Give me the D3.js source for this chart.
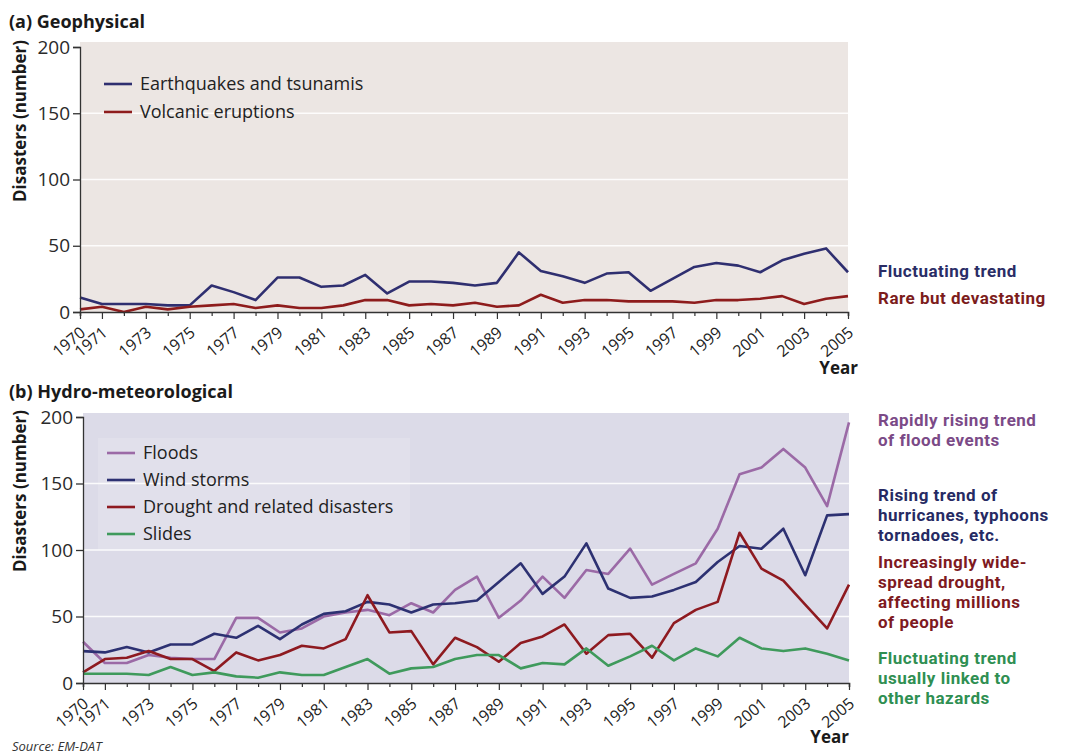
<!DOCTYPE html>
<html>
<head>
<meta charset="utf-8">
<script src="https://cdn.jsdelivr.net/npm/d3@7"></script>
<style>
  html, body { margin: 0; padding: 0; background: #ffffff; }
  svg { display: block; font-family: "Open Sans", "Noto Sans", sans-serif; }
</style>
</head>
<body>
<svg id="chart" width="1068" height="756"></svg>
<script>
// Years 1970–2005
const years = d3.range(1970, 2006);
const yearTickLabels = [1970, 1971, 1973, 1975, 1977, 1979, 1981, 1983, 1985, 1987, 1989,
  1991, 1993, 1995, 1997, 1999, 2001, 2003, 2005];
const valueTicks = [0, 50, 100, 150, 200];

// (a) Geophysical disasters per year
const earthquakes = [11, 6, 6, 6, 5, 5, 20, 15, 9, 26, 26, 19, 20, 28, 14, 23, 23, 22,
  20, 22, 45, 31, 27, 22, 29, 30, 16, 25, 34, 37, 35, 30, 39, 44, 48, 30];
const volcanic = [2, 4, 0, 4, 2, 4, 5, 6, 3, 5, 3, 3, 5, 9, 9, 5, 6, 5,
  7, 4, 5, 13, 7, 9, 9, 8, 8, 8, 7, 9, 9, 10, 12, 6, 10, 12];

// (b) Hydro-meteorological disasters per year
const floods = [31, 15, 15, 21, 19, 18, 18, 49, 49, 38, 41, 50, 53, 55, 51, 60, 53, 70,
  80, 49, 62, 80, 64, 85, 82, 101, 74, 82, 90, 116, 157, 162, 176, 162, 133, 196];
const windStorms = [24, 23, 27, 23, 29, 29, 37, 34, 43, 33, 44, 52, 54, 61, 59, 53, 59, 60,
  62, 76, 90, 67, 80, 105, 71, 64, 65, 70, 76, 91, 103, 101, 116, 81, 126, 127];
const drought = [8, 18, 19, 24, 18, 18, 9, 23, 17, 21, 28, 26, 33, 66, 38, 39, 14, 34,
  27, 16, 30, 35, 44, 22, 36, 37, 19, 45, 55, 61, 113, 86, 77, 59, 41, 74];
const slides = [7, 7, 7, 6, 12, 6, 8, 5, 4, 8, 6, 6, 12, 18, 7, 11, 12, 18,
  21, 21, 11, 15, 14, 26, 13, 20, 28, 17, 26, 20, 34, 26, 24, 26, 22, 17];

const svg = d3.select("#chart");

const panels = [
  {
    title: "(a) Geophysical", titleY: 28,
    x0: 80, x1: 848, yTop: 47, yBottom: 312, bgTop: 42,
    bg: "#ece6e3", axisTitleTop: 40, yearX: 858, yearY: 374,
    legendX: 104, legendY: 84, legendGap: 28, legendBox: null,
    series: [
      { name: "Earthquakes and tsunamis", values: earthquakes, color: "#2f2f70" },
      { name: "Volcanic eruptions", values: volcanic, color: "#8e1c1c" }
    ],
    notes: [
      { lines: ["Fluctuating trend"], color: "#2a2d66", y: 277 },
      { lines: ["Rare but devastating"], color: "#7c1c1c", y: 304 }
    ]
  },
  {
    title: "(b) Hydro-meteorological", titleY: 398,
    x0: 83, x1: 849, yTop: 417, yBottom: 683, bgTop: 413,
    bg: "#dcdbe8", axisTitleTop: 410, yearX: 849, yearY: 743,
    legendX: 107, legendY: 453, legendGap: 27, legendBox: [98, 438, 312, 112],
    series: [
      { name: "Floods", values: floods, color: "#9b6aa6" },
      { name: "Wind storms", values: windStorms, color: "#2d3172" },
      { name: "Drought and related disasters", values: drought, color: "#8e1a20" },
      { name: "Slides", values: slides, color: "#3f9a5c" }
    ],
    notes: [
      { lines: ["Rapidly rising trend", "of flood events"], color: "#7b4a87", y: 426 },
      { lines: ["Rising trend of", "hurricanes, typhoons", "tornadoes, etc."], color: "#262a63", y: 501 },
      { lines: ["Increasingly wide-", "spread drought,", "affecting millions", "of people"], color: "#7e1a1f", y: 568 },
      { lines: ["Fluctuating trend", "usually linked to", "other hazards"], color: "#2f8f52", y: 664 }
    ]
  }
];

panels.forEach(p => {
  const g = svg.append("g");
  const x = d3.scaleLinear().domain([1970, 2005]).range([p.x0, p.x1]);
  const y = d3.scaleLinear().domain([0, 200]).range([p.yBottom, p.yTop]);

  // panel title
  g.append("text").attr("x", 9).attr("y", p.titleY)
    .attr("font-size", 18).attr("font-weight", 700).attr("fill", "#1a1a1a")
    .text(p.title);

  // plot background
  g.append("rect").attr("x", p.x0).attr("y", p.bgTop)
    .attr("width", p.x1 - p.x0).attr("height", p.yBottom - p.bgTop)
    .attr("fill", p.bg);

  // white horizontal gridlines
  g.selectAll("line.grid").data([50, 100, 150]).join("line")
    .attr("x1", p.x0).attr("x2", p.x1)
    .attr("y1", d => y(d)).attr("y2", d => y(d))
    .attr("stroke", "#ffffff").attr("stroke-width", 1.3).attr("opacity", 0.9);

  // legend backdrop
  if (p.legendBox) {
    g.append("rect").attr("x", p.legendBox[0]).attr("y", p.legendBox[1])
      .attr("width", p.legendBox[2]).attr("height", p.legendBox[3])
      .attr("fill", "#ffffff").attr("opacity", 0.15);
  }

  // series lines
  const line = d3.line().x((d, i) => x(years[i])).y(d => y(d));
  p.series.forEach(s => {
    g.append("path").datum(s.values)
      .attr("d", line).attr("fill", "none")
      .attr("stroke", s.color).attr("stroke-width", 2.6)
      .attr("stroke-linejoin", "round");
  });

  // y axis
  const yAxis = d3.axisLeft(y).tickValues(valueTicks).tickSize(7).tickPadding(3);
  const ya = g.append("g").attr("transform", `translate(${p.x0},0)`).call(yAxis);
  ya.select(".domain").attr("stroke", "#333").attr("stroke-width", 1.3);
  ya.selectAll(".tick line").attr("stroke", "#333").attr("stroke-width", 1.3);
  ya.selectAll(".tick text").attr("font-size", 19).attr("fill", "#2a2a2a")
    .attr("font-family", "'Open Sans', sans-serif");

  // x axis: minor ticks every year, longer ticks on labelled years
  const xAxis = d3.axisBottom(x).tickValues(years).tickSize(4).tickFormat("");
  const xa = g.append("g").attr("transform", `translate(0,${p.yBottom})`).call(xAxis);
  xa.select(".domain").attr("stroke", "#333").attr("stroke-width", 1.6);
  xa.selectAll(".tick line").attr("stroke", "#333").attr("stroke-width", 1.2)
    .attr("y2", d => yearTickLabels.includes(d) ? 7 : 4);

  g.selectAll("text.year").data(yearTickLabels).join("text")
    .attr("class", "year")
    .attr("transform", d => `translate(${x(d) + 3},${p.yBottom + 18}) rotate(-40)`)
    .attr("text-anchor", "end")
    .attr("dy", "0.35em")
    .attr("font-size", 16).attr("fill", "#222")
    .text(d => d);

  // y axis title
  g.append("text")
    .attr("transform", `translate(26,${p.axisTitleTop}) rotate(-90)`)
    .attr("text-anchor", "end")
    .attr("font-size", 17).attr("font-weight", 700).attr("fill", "#1a1a1a")
    .text("Disasters (number)");

  // x axis title
  g.append("text").attr("x", p.yearX).attr("y", p.yearY)
    .attr("text-anchor", "end")
    .attr("font-size", 17).attr("font-weight", 700).attr("fill", "#1a1a1a")
    .text("Year");

  // legend
  p.series.forEach((s, i) => {
    const ly = p.legendY + i * p.legendGap;
    g.append("line").attr("x1", p.legendX).attr("x2", p.legendX + 28)
      .attr("y1", ly).attr("y2", ly)
      .attr("stroke", s.color).attr("stroke-width", 2.6);
    g.append("text").attr("x", p.legendX + 36).attr("y", ly)
      .attr("dy", "0.35em").attr("font-size", 18).attr("fill", "#222")
      .text(s.name);
  });

  // trend notes on the right, one text per line
  p.notes.forEach(n => {
    n.lines.forEach((ln, i) => {
      g.append("text").attr("x", 878).attr("y", n.y + i * 20)
        .attr("font-family", "Roboto, 'Open Sans', sans-serif")
        .attr("font-size", 17).attr("font-weight", 700).attr("fill", n.color)
        .attr("letter-spacing", 0.5)
        .text(ln);
    });
  });
});

// source line
svg.append("text").attr("x", 12).attr("y", 751)
  .attr("font-size", 13).attr("font-style", "italic").attr("fill", "#333")
  .text("Source: EM-DAT");
</script>
</body>
</html>
